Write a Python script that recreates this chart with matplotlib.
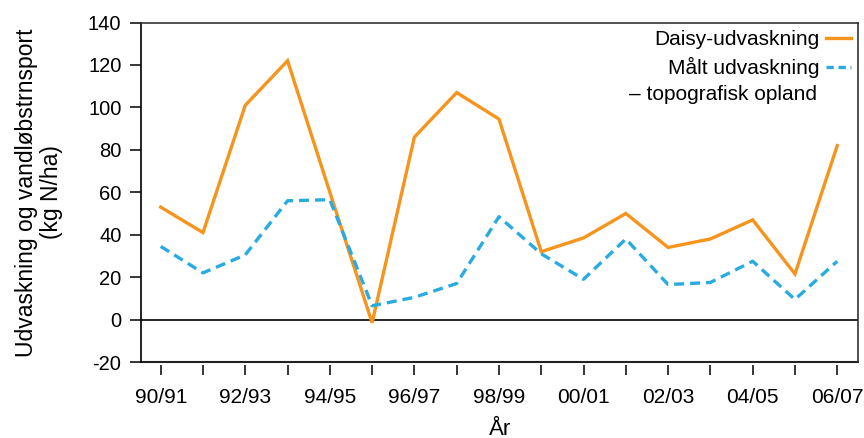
import numpy as np
import matplotlib.pyplot as plt
from matplotlib.lines import Line2D

plt.rcParams['font.family'] = ['Liberation Sans', 'DejaVu Sans']
plt.rcParams['axes.unicode_minus'] = False

# Hydrological years and nitrogen leaching (kg N/ha)
years = ["90/91", "91/92", "92/93", "93/94", "94/95", "95/96", "96/97", "97/98", "98/99",
         "99/00", "00/01", "01/02", "02/03", "03/04", "04/05", "05/06", "06/07"]
daisy = [53, 41, 101, 122, 60, -1.5, 86, 107, 94.5, 32, 38.5, 50, 34, 38, 47, 21.5, 82]
maalt = [34.5, 22, 30.5, 56, 56.5, 6.5, 10.5, 17, 48.5, 31, 19, 38, 16.5, 17.5, 27.5, 9.5, 27.5]

orange = '#F7941D'
blue = '#29ABE2'

fig = plt.figure(figsize=(8.64, 4.38), dpi=100)
ax = fig.add_axes([0.163, 0.1735, 0.8305, 0.775])

x = np.arange(len(years))
ax.plot(x, daisy, color=orange, lw=2.4, solid_joinstyle='miter', zorder=3)
ax.plot(x, maalt, color=blue, lw=2.4, dashes=(3.0, 1.8), zorder=3)

ax.axhline(0, color='black', lw=1.2, zorder=2)

ax.set_xlim(-0.47, 16.5)
ax.set_ylim(-20, 140)
ax.set_yticks(np.arange(-20, 141, 20))
ax.set_xticks(x)
ax.set_xticklabels([y if i % 2 == 0 else "" for i, y in enumerate(years)])

# frame: bottom spine is pushed down a little so the x ticks float below the box
for side in ['top', 'right']:
    ax.spines[side].set_color('#333333')
    ax.spines[side].set_linewidth(1.2)
ax.spines['left'].set_linewidth(1.2)
ax.spines['bottom'].set_position(('outward', 2))
ax.spines['bottom'].set_visible(False)
ax.axhline(-20, color='#222222', lw=1.5, clip_on=False, zorder=2)

ax.tick_params(axis='y', direction='out', length=8, width=1.1, pad=6, labelsize=14.5)
ax.tick_params(axis='x', direction='out', length=7, width=1.1, pad=10, labelsize=15)

ax.set_xlabel("År", fontsize=16, labelpad=8)
ax.set_ylabel("Udvaskning og vandløbstrnsport\n(kg N/ha)", fontsize=16.5, labelpad=18,
              linespacing=1.1)

handles = [Line2D([], [], color=orange, lw=2.4),
           Line2D([], [], color=blue, lw=2.4, dashes=(2.2, 1.4))]
leg = ax.legend(handles, ["Daisy-udvaskning", "Målt udvaskning"], loc='upper right',
                bbox_to_anchor=(0.99, 0.978), frameon=False, markerfirst=False,
                fontsize=15, handlelength=1.2, handletextpad=0.3, borderpad=0,
                borderaxespad=0, labelspacing=0.4)
ax.text(0.943, 0.787, "– topografisk opland", transform=ax.transAxes,
        ha='right', va='center', fontsize=15)

fig.savefig('out.png', dpi=100)
